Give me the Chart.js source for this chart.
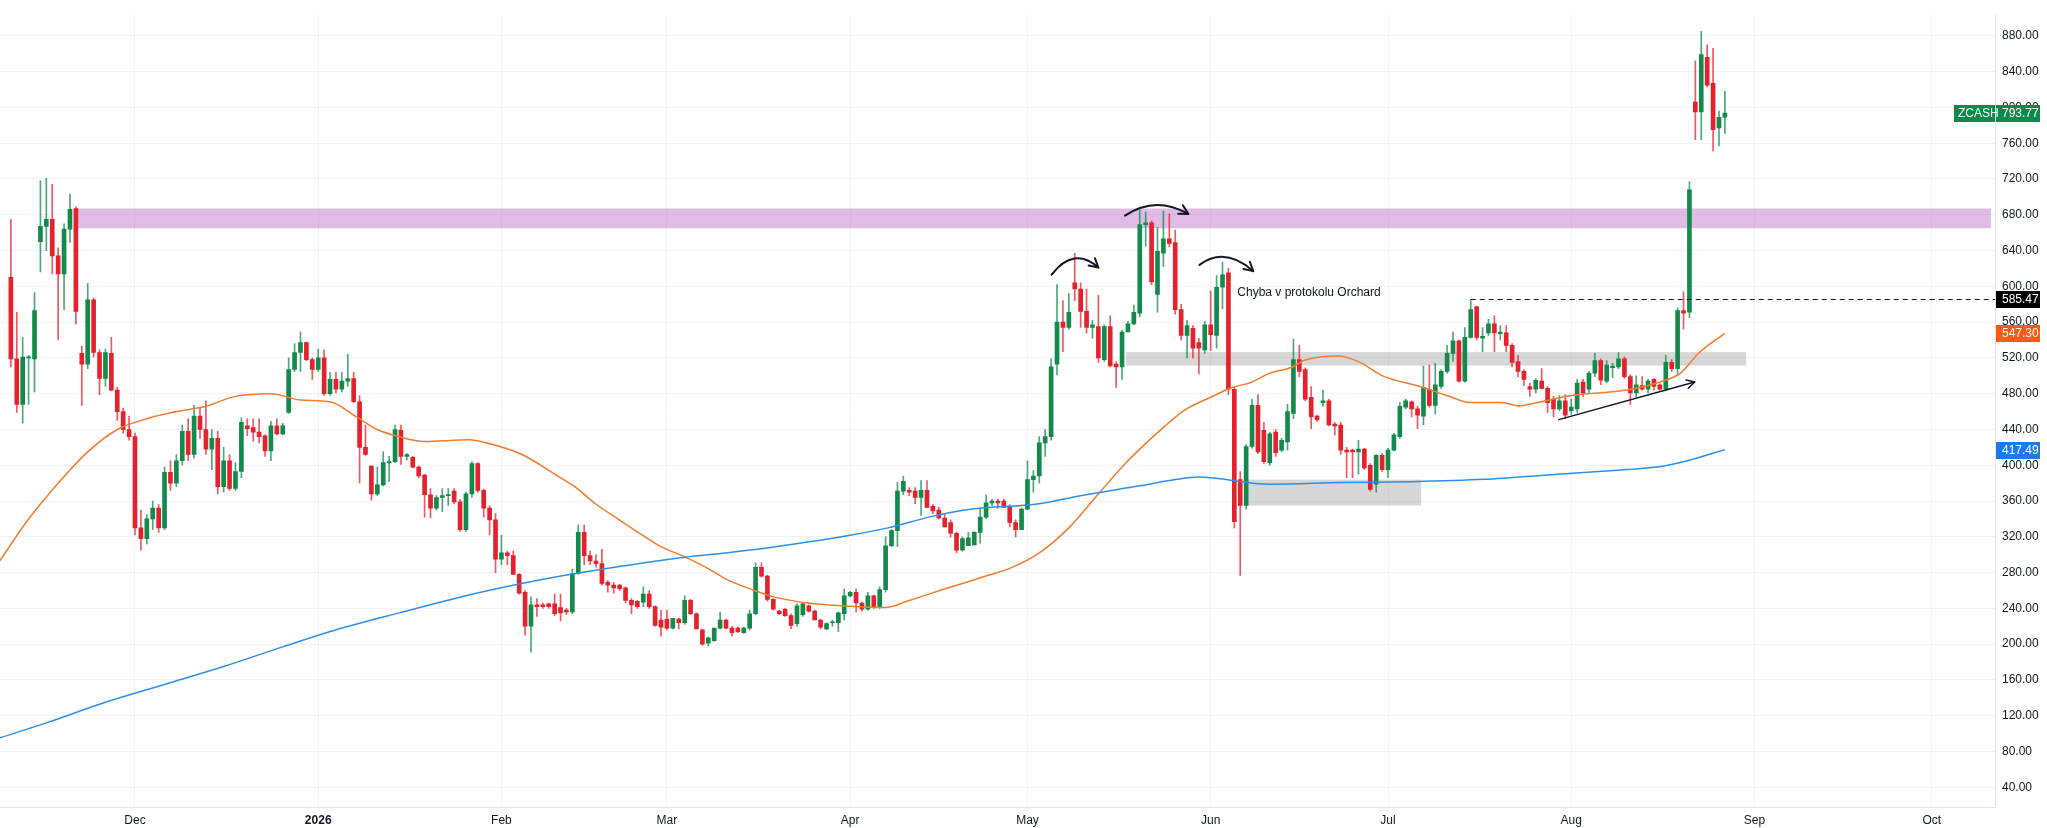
<!DOCTYPE html>
<html>
<head>
<meta charset="utf-8">
<script src="https://cdn.jsdelivr.net/npm/chart.js@4.4.1/dist/chart.umd.min.js"></script>
<style>
  html, body { margin: 0; padding: 0; background: #ffffff; }
  #wrap { position: relative; width: 2047px; height: 828px; }
</style>
</head>
<body>
<div id="wrap"><canvas id="chart"></canvas></div>
<script>
// ZCASH daily candles, x = days counted from 1 Dec 2025 (first candle 10 Nov 2025)
const firstDay = -21;

const opens = [
  610, 519, 468, 520, 519, 650, 667, 675, 634, 614, 664, 687, 525, 513, 585, 526, 497, 525, 484, 460,
  440, 432, 330, 318, 340, 352, 330, 392, 380, 405, 438, 412, 455, 440, 418, 430, 376, 405, 374, 393,
  444, 442, 437, 433, 416, 444, 435, 459, 507, 526, 537, 518, 507, 520, 480, 496, 485, 494, 497, 471,
  420, 399, 368, 378, 403, 404, 439, 410, 409, 398, 389, 367, 352, 364, 366, 371, 359, 328, 368, 402,
  372, 352, 339, 295, 302, 299, 278, 258, 220, 244, 244, 245, 245, 241, 238, 236, 279, 325, 299, 293,
  290, 269, 266, 266, 263, 249, 248, 247, 256, 242, 227, 228, 218, 228, 224, 249, 234, 216, 201, 204,
  218, 227, 218, 218, 213, 218, 234, 286, 276, 250, 237, 239, 232, 223, 233, 243, 237, 227, 217, 224,
  224, 234, 254, 258, 246, 239, 254, 242, 261, 310, 327, 371, 372, 371, 364, 372, 354, 350, 341, 336,
  324, 305, 310, 311, 325, 342, 358, 360, 360, 353, 336, 328, 351, 384, 388, 425, 432, 513, 560, 554,
  604, 597, 572, 554, 555, 518, 555, 513, 510, 549, 558, 570, 669, 671, 591, 637, 653, 649, 574, 545,
  553, 537, 529, 557, 545, 599, 615, 485, 384, 355, 421, 467, 439, 403, 437, 417, 426, 458, 518, 507,
  476, 455, 470, 472, 446, 445, 417, 417, 415, 418, 400, 379, 411, 395, 417, 432, 465, 471, 463, 455,
  485, 467, 488, 505, 525, 539, 494, 543, 577, 542, 548, 558, 547, 548, 534, 516, 505, 488, 485, 494,
  486, 474, 463, 472, 461, 463, 493, 485, 503, 517, 494, 509, 510, 519, 499, 481, 489, 485, 496, 490,
  485, 515, 508, 573, 571, 806, 795, 856, 827, 777, 789
];
const highs = [
  675, 571, 543, 523, 593, 718, 721, 714, 643, 670, 703, 689, 533, 603, 587, 529, 530, 543, 487, 464,
  455, 436, 350, 345, 360, 356, 398, 405, 412, 445, 452, 467, 464, 472, 440, 438, 420, 412, 403, 453,
  452, 452, 452, 434, 449, 452, 447, 520, 536, 549, 538, 520, 530, 529, 504, 504, 504, 524, 504, 478,
  445, 399, 398, 415, 410, 445, 445, 413, 410, 399, 390, 374, 366, 374, 374, 374, 362, 370, 404, 403,
  373, 355, 346, 322, 304, 304, 279, 260, 253, 251, 246, 246, 256, 256, 240, 284, 333, 333, 304, 300,
  306, 271, 269, 267, 264, 251, 249, 264, 260, 243, 238, 238, 229, 229, 254, 250, 235, 217, 208, 218,
  236, 228, 220, 219, 219, 238, 291, 291, 277, 251, 238, 240, 234, 245, 246, 244, 238, 228, 224, 227,
  236, 262, 259, 262, 247, 258, 255, 264, 320, 328, 381, 388, 375, 375, 383, 383, 356, 353, 345, 339,
  325, 320, 325, 326, 352, 367, 362, 362, 362, 356, 339, 352, 405, 394, 432, 440, 519, 602, 584, 592,
  637, 604, 597, 562, 590, 557, 567, 516, 551, 561, 579, 685, 683, 673, 666, 684, 681, 663, 580, 562,
  556, 542, 561, 595, 612, 627, 620, 487, 393, 423, 474, 479, 448, 437, 440, 430, 468, 541, 534, 509,
  488, 456, 484, 474, 448, 448, 420, 418, 428, 419, 402, 412, 413, 419, 436, 470, 474, 472, 466, 511,
  512, 514, 507, 534, 549, 540, 554, 585.47, 578, 554, 563, 567, 556, 556, 536, 523, 507, 492, 497, 508,
  488, 477, 478, 479, 474, 496, 496, 505, 525, 519, 517, 514, 526, 521, 501, 500, 499, 496, 497, 491,
  523, 518, 576, 594, 717, 852, 885, 870, 866, 796, 818
];
const lows = [
  510, 459, 447, 468, 482, 616, 640, 614, 540, 574, 649, 558, 467, 508, 521, 479, 488, 483, 450, 436,
  428, 322, 305, 312, 328, 325, 328, 372, 376, 400, 405, 408, 430, 412, 395, 368, 370, 372, 372, 386,
  433, 427, 425, 410, 405, 434, 434, 458, 505, 505, 517, 496, 505, 478, 478, 481, 482, 488, 470, 380,
  411, 361, 366, 377, 382, 403, 401, 406, 397, 386, 342, 341, 350, 348, 355, 357, 326, 326, 364, 370,
  342, 322, 280, 289, 289, 278, 256, 210, 191, 231, 240, 240, 232, 226, 233, 234, 278, 289, 289, 286,
  266, 258, 257, 260, 246, 234, 240, 242, 240, 220, 209, 216, 217, 217, 222, 233, 217, 199, 198, 203,
  217, 217, 209, 213, 212, 216, 233, 275, 248, 238, 233, 231, 217, 220, 231, 236, 227, 217, 216, 220,
  214, 227, 253, 236, 237, 238, 240, 240, 258, 309, 309, 367, 366, 357, 344, 353, 346, 340, 331, 320,
  302, 304, 310, 311, 313, 340, 355, 352, 353, 331, 320, 328, 350, 370, 380, 410, 428, 501, 527, 552,
  584, 554, 548, 542, 515, 516, 510, 487, 496, 549, 557, 566, 645, 602, 571, 622, 644, 569, 540, 520,
  520, 502, 525, 528, 531, 575, 479, 330, 277, 351, 419, 413, 402, 400, 410, 415, 417, 452, 499, 472,
  441, 449, 466, 444, 434, 412, 386, 386, 390, 395, 371, 370, 393, 386, 416, 430, 463, 454, 441, 445,
  465, 457, 486, 503, 516, 493, 493, 542, 540, 527, 545, 527, 540, 527, 510, 499, 489, 477, 481, 485,
  459, 454, 461, 452, 457, 459, 477, 481, 499, 490, 492, 498, 508, 497, 468, 476, 484, 481, 484, 484,
  483, 505, 501, 552, 565, 764, 764, 823, 751, 757, 771
];
const closes = [
  519, 468, 521, 521, 573, 667, 675, 634, 614, 664, 686, 572, 513, 585, 526, 497, 526, 484, 460, 440,
  432, 330, 318, 340, 352, 330, 392, 380, 405, 438, 412, 455, 440, 418, 430, 376, 405, 374, 393, 448,
  441, 437, 432, 416, 444, 435, 444, 507, 526, 537, 518, 507, 520, 480, 496, 485, 494, 497, 471, 420,
  412, 368, 378, 403, 404, 440, 410, 412, 398, 388, 367, 352, 364, 366, 367, 359, 328, 368, 402, 372,
  352, 339, 295, 302, 299, 278, 257, 220, 244, 242, 242, 242, 234, 235, 236, 279, 325, 299, 293, 290,
  268, 266, 263, 262, 249, 244, 242, 256, 242, 221, 219, 218, 229, 224, 249, 234, 217, 200, 207, 218,
  227, 218, 213, 214, 218, 234, 286, 276, 250, 239, 234, 232, 221, 243, 245, 237, 227, 219, 223, 225,
  235, 254, 258, 246, 239, 254, 242, 261, 310, 327, 371, 382, 370, 364, 372, 353, 349, 341, 331, 324,
  305, 318, 319, 325, 342, 358, 360, 358, 353, 336, 328, 351, 384, 388, 425, 432, 510, 560, 554, 571,
  597, 572, 554, 557, 520, 555, 511, 510, 549, 558, 571, 669, 671, 605, 639, 653, 648, 574, 545, 556,
  531, 531, 557, 546, 599, 613, 485, 337, 355, 421, 467, 415, 404, 435, 414, 428, 460, 518, 505, 474,
  454, 451, 472, 445, 444, 417, 415, 415, 418, 397, 373, 411, 395, 417, 434, 466, 472, 463, 456, 487,
  467, 490, 505, 525, 539, 494, 543, 574, 543, 544, 558, 548, 549, 534, 515, 505, 496, 485, 495, 486,
  470, 463, 472, 456, 465, 492, 481, 503, 517, 495, 512, 511, 519, 499, 481, 490, 485, 494, 488, 485,
  515, 508, 573, 570, 708, 795, 859, 825, 775, 789, 793.77
];

// moving averages (day, value)
const orangeDays = [-23, -18, -13, -8, -3, 2, 7, 12, 17, 23, 28, 33, 37.5, 41, 44.7, 48.9, 56.5, 59.2, 65.5, 71,
  74.4, 77.9, 82, 86.2, 88.9, 93.1, 97.2, 100, 104.1, 108.2, 113.8, 120.7, 126.9, 131, 137.9, 144.1, 148.3, 153, 158, 163,
  168, 174.2, 177.6, 182.1, 185.5, 188.9, 192, 195.6, 198, 203.5, 207, 211.3, 217.3, 222.2, 225.8, 231.2, 234.3, 237.3, 243.3, 252.4,
  258.4, 261.5, 264.5, 266.9, 269];
const orangeValues = [292, 340, 380, 415, 440, 452, 460, 466, 477, 480, 473, 471, 454, 440, 432, 426.6, 428.4, 425.5, 412, 390,
  376, 357, 338.7, 320.4, 309.4, 297.3, 283.7, 272.7, 261.8, 252.6, 246, 242.4, 240.9, 248.9, 263.6, 276.4, 285.6, 302, 330, 368,
  405, 443.5, 461.7, 476.3, 486.6, 492.8, 503, 509.2, 517.6, 522, 515.8, 499.3, 488.4, 477.4, 470.1, 470.1, 466.5, 470.1, 478.2, 484,
  493.9, 503, 524.9, 537.7, 547.3];
const blueDays = [-23, -15, -5, 5, 15, 25, 35, 44.7, 58.5, 72.3, 86.2, 93.1, 100, 106.9, 113.8, 120.7, 127.6, 134.5, 141.4, 153,
  160, 170, 176, 179.9, 192, 204, 216.1, 228.2, 240.3, 252.4, 258.4, 263.3, 269];
const blueValues = [95, 112, 135, 155, 175, 197, 218, 235, 258, 276.4, 291, 297.3, 302, 307.5, 314.1, 321.5, 330.3, 342.3, 350.8, 357,
  366, 377, 384, 386.8, 378.8, 380.6, 381.7, 384.3, 389.8, 395.2, 398.9, 406.2, 417.49];

const monthTicks = [0, 31, 62, 90, 121, 151, 182, 212, 243, 274, 304];
const monthLabels = ['Dec', '2026', 'Feb', 'Mar', 'Apr', 'May', 'Jun', 'Jul', 'Aug', 'Sep', 'Oct'];
const priceTicks = [40, 80, 120, 160, 200, 240, 280, 320, 360, 400, 440, 480, 520, 560, 600, 640, 680, 720, 760, 800, 840, 880];

const breakoutLevel = 585.47;
const fastMaLast = 547.30;
const slowMaLast = 417.49;

const UP = '#138a4b', DOWN = '#e5212d';
const FONT = "'Liberation Sans', Arial, sans-serif";

const bodies = [], wicks = [], bodyColors = [], wickColors = [];
for (let i = 0; i < closes.length; i++) {
  const up = closes[i] >= opens[i];
  bodies.push({ x: firstDay + i, y: [opens[i], closes[i]] });
  wicks.push({ x: firstDay + i, y: [lows[i], highs[i]] });
  bodyColors.push(up ? UP : DOWN);
  wickColors.push(up ? 'rgba(19,138,75,0.75)' : 'rgba(229,33,45,0.75)');
}
const orangeLine = orangeDays.map((d, i) => ({ x: d, y: orangeValues[i] }));
const blueLine = blueDays.map((d, i) => ({ x: d, y: blueValues[i] }));

// drawings on top of the chart (in day / price coordinates)
const bands = [
  { from: -10, to: 314, lo: 665, hi: 687, color: 'rgba(186,104,200,0.45)' },
  { from: 167.7, to: 272.6, lo: 511.5, hi: 526.5, color: 'rgba(150,150,150,0.38)' },
  { from: 187.7, to: 217.6, lo: 355, hi: 384, color: 'rgba(150,150,150,0.38)' }
];
const arcs = [
  { x0: 155.1, y0: 613, cx: 158.8, cy: 645, x1: 163, y1: 621 },
  { x0: 167.5, y0: 679, cx: 172.6, cy: 702, x1: 178.2, y1: 681 },
  { x0: 180.1, y0: 624, cx: 184.4, cy: 645, x1: 189.2, y1: 617 }
];
const trend = { x0: 240.9, y0: 451, x1: 263.9, y1: 493 };
const note = { x: 186.5, y: 592.5, text: 'Chyba v protokolu Orchard' };

function arrowHead(ctx, x, y, ang, len) {
  ctx.beginPath();
  ctx.moveTo(x - len * Math.cos(ang - 0.5), y - len * Math.sin(ang - 0.5));
  ctx.lineTo(x, y);
  ctx.lineTo(x - len * Math.cos(ang + 0.5), y - len * Math.sin(ang + 0.5));
  ctx.stroke();
}

const drawings = {
  id: 'drawings',
  beforeDatasetsDraw(chart) {
    const { ctx, chartArea, scales: { x, y } } = chart;
    ctx.save();
    ctx.beginPath();
    ctx.rect(chartArea.left, chartArea.top, chartArea.right - chartArea.left, chartArea.bottom - chartArea.top);
    ctx.clip();
    bands.forEach(b => {
      const x0 = x.getPixelForValue(b.from), x1 = x.getPixelForValue(b.to);
      const y0 = y.getPixelForValue(b.hi), y1 = y.getPixelForValue(b.lo);
      ctx.fillStyle = b.color;
      ctx.fillRect(x0, y0, x1 - x0, y1 - y0);
    });
    ctx.restore();
  },
  afterDatasetsDraw(chart) {
    const { ctx, chartArea, scales: { x, y } } = chart;
    ctx.save();
    ctx.strokeStyle = '#131722';
    ctx.lineCap = 'round';
    ctx.lineJoin = 'round';

    // curved arrows above the tops
    ctx.lineWidth = 2;
    arcs.forEach(a => {
      const px0 = x.getPixelForValue(a.x0), py0 = y.getPixelForValue(a.y0);
      const pcx = x.getPixelForValue(a.cx), pcy = y.getPixelForValue(a.cy);
      const px1 = x.getPixelForValue(a.x1), py1 = y.getPixelForValue(a.y1);
      ctx.beginPath();
      ctx.moveTo(px0, py0);
      ctx.quadraticCurveTo(pcx, pcy, px1, py1);
      ctx.stroke();
      arrowHead(ctx, px1, py1, Math.atan2(py1 - pcy, px1 - pcx), 10);
    });

    // rising support line
    ctx.lineWidth = 1.5;
    const tx0 = x.getPixelForValue(trend.x0), ty0 = y.getPixelForValue(trend.y0);
    const tx1 = x.getPixelForValue(trend.x1), ty1 = y.getPixelForValue(trend.y1);
    ctx.beginPath();
    ctx.moveTo(tx0, ty0);
    ctx.lineTo(tx1, ty1);
    ctx.stroke();
    arrowHead(ctx, tx1, ty1, Math.atan2(ty1 - ty0, tx1 - tx0), 9);

    // dashed level from the July high
    const ly = Math.round(y.getPixelForValue(breakoutLevel)) + 0.5;
    ctx.lineWidth = 1;
    ctx.setLineDash([5, 4]);
    ctx.lineCap = 'butt';
    ctx.beginPath();
    ctx.moveTo(x.getPixelForValue(226), ly);
    ctx.lineTo(chartArea.right, ly);
    ctx.stroke();
    ctx.setLineDash([]);

    // note
    ctx.fillStyle = '#131722';
    ctx.font = '12px ' + FONT;
    ctx.textAlign = 'left';
    ctx.textBaseline = 'middle';
    ctx.fillText(note.text, x.getPixelForValue(note.x), y.getPixelForValue(note.y));
    ctx.restore();
  },
  afterDraw(chart) {
    const { ctx, chartArea, scales: { y } } = chart;
    const left = chartArea.right + 1;
    ctx.save();
    ctx.font = '12px ' + FONT;
    ctx.textBaseline = 'middle';
    ctx.textAlign = 'left';
    const tag = (value, bg, label) => {
      const py = Math.round(y.getPixelForValue(value));
      ctx.fillStyle = bg;
      ctx.fillRect(left, py - 8, 44, 17);
      ctx.fillStyle = '#ffffff';
      ctx.fillText(label, left + 6, py + 1);
      return py;
    };
    const last = closes[closes.length - 1];
    const py = tag(last, '#0b8a48', last.toFixed(2));
    ctx.fillStyle = '#0b8a48';
    ctx.fillRect(left - 42, py - 8, 41, 17);
    ctx.fillStyle = '#ffffff';
    ctx.fillText('ZCASH', left - 38, py + 1);
    tag(breakoutLevel, '#000000', breakoutLevel.toFixed(2));
    tag(fastMaLast, '#ff5a0f', fastMaLast.toFixed(2));
    tag(slowMaLast, '#1f7ae8', slowMaLast.toFixed(2));
    ctx.restore();
  }
};

new Chart(document.getElementById('chart'), {
  data: {
    datasets: [
      {
        type: 'line', label: 'MA slow', data: blueLine, borderColor: '#2f8fe8', borderWidth: 1.5,
        pointRadius: 0, cubicInterpolationMode: 'monotone', order: 0
      },
      {
        type: 'line', label: 'MA fast', data: orangeLine, borderColor: '#f57c2a', borderWidth: 1.5,
        pointRadius: 0, cubicInterpolationMode: 'monotone', order: 0
      },
      {
        type: 'bar', label: 'body', data: bodies, backgroundColor: bodyColors, borderWidth: 0,
        barThickness: 4, minBarLength: 1, grouped: false, order: 1
      },
      {
        type: 'bar', label: 'wick', data: wicks, backgroundColor: wickColors, borderWidth: 0,
        barThickness: 1, grouped: false, order: 2
      }
    ]
  },
  options: {
    responsive: true,
    maintainAspectRatio: false,
    animation: false,
    layout: { padding: 0 },
    plugins: { legend: { display: false }, tooltip: { enabled: false } },
    scales: {
      x: {
        type: 'linear',
        min: -22.84,
        max: 314.7,
        offset: false,
        afterBuildTicks: axis => { axis.ticks = monthTicks.map(v => ({ value: v })); },
        afterFit: axis => { axis.height = 21; },
        grid: { color: '#f0f3fa', drawTicks: false, offset: false },
        border: { color: '#e0e3eb' },
        ticks: {
          autoSkip: false, maxRotation: 0, padding: 6, color: '#131722',
          font: c => ({ family: FONT, size: 12, weight: c.tick && c.tick.label === '2026' ? 'bold' : 'normal' }),
          callback: v => monthLabels[monthTicks.indexOf(v)]
        }
      },
      y: {
        type: 'linear',
        position: 'right',
        min: 18,
        max: 904.2,
        afterBuildTicks: axis => { axis.ticks = priceTicks.map(v => ({ value: v })); },
        afterFit: axis => { axis.width = 52; },
        grid: { color: '#f0f3fa', drawTicks: false },
        border: { color: '#e0e3eb' },
        ticks: { padding: 7, color: '#131722', font: { family: FONT, size: 12 }, callback: v => v.toFixed(2) }
      }
    }
  },
  plugins: [drawings]
});
</script>
</body>
</html>
